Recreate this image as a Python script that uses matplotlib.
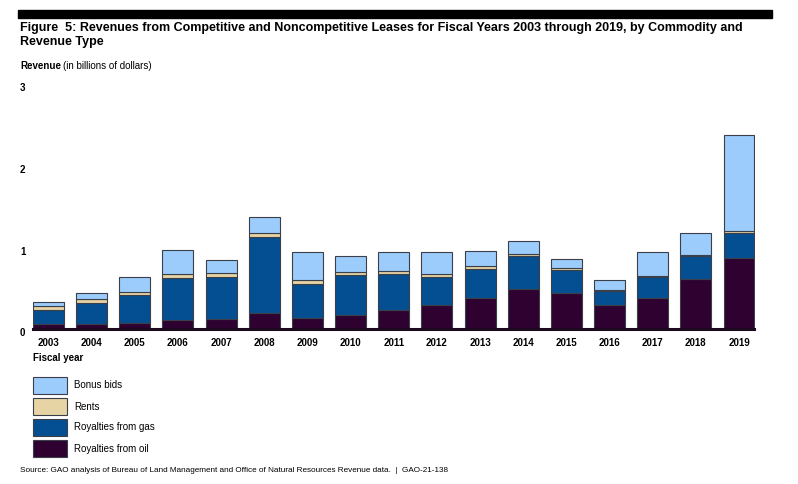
import matplotlib
matplotlib.use("Agg")
import matplotlib.pyplot as plt
import matplotlib.transforms as mtransforms
from matplotlib.patches import Rectangle
import numpy as np

plt.rcParams['font.family'] = ['Liberation Sans', 'DejaVu Sans']

years = ["2003", "2004", "2005", "2006", "2007", "2008", "2009", "2010", "2011",
         "2012", "2013", "2014", "2015", "2016", "2017", "2018", "2019"]
royalties_oil = [0.05, 0.05, 0.07, 0.10, 0.11, 0.19, 0.125, 0.17, 0.23,
                 0.29, 0.375, 0.48, 0.43, 0.285, 0.37, 0.60, 0.86]
royalties_gas = [0.18, 0.265, 0.34, 0.515, 0.52, 0.926, 0.42, 0.48, 0.44,
                 0.34, 0.355, 0.41, 0.29, 0.17, 0.255, 0.28, 0.31]
rents = [0.05, 0.04, 0.04, 0.05, 0.045, 0.05, 0.045, 0.04, 0.03,
         0.03, 0.035, 0.02, 0.02, 0.015, 0.015, 0.015, 0.02]
bonus_bids = [0.045, 0.075, 0.175, 0.30, 0.16, 0.20, 0.35, 0.195, 0.235,
              0.28, 0.18, 0.165, 0.11, 0.12, 0.30, 0.275, 1.18]
y_ticks = [0, 1, 2, 3]

series = [
    ("Royalties from oil", royalties_oil, "#2e0130"),
    ("Royalties from gas", royalties_gas, "#044f92"),
    ("Rents", rents, "#e6d4a4"),
    ("Bonus bids", bonus_bids, "#9cccfc"),
]

W, H = 798, 484
fig = plt.figure(figsize=(W / 100, H / 100), dpi=100)

def fx(px):
    return px / W

def fy(py):
    return 1 - py / H

# top black bar
fig.patches.append(Rectangle((fx(18), fy(18)), fx(772) - fx(18), fy(10) - fy(18),
                             transform=fig.transFigure, color="black", zorder=5))

fig.text(fx(20), fy(28), "Figure  5: Revenues from Competitive and Noncompetitive Leases for Fiscal Years 2003 through 2019, by Commodity and",
         fontsize=9.0, fontweight="bold", va="center", ha="left")
fig.text(fx(20), fy(42), "Revenue Type", fontsize=9.0, fontweight="bold", va="center", ha="left")

fig.text(fx(20), fy(66), "Revenue", fontsize=7.0, fontweight="bold", va="center", ha="left")
fig.text(fx(63), fy(66), "(in billions of dollars)", fontsize=7.0, va="center", ha="left")

# axes
ax_left, ax_right = 33, 754.5
ax_top, ax_bottom = 83, 328.5
ax = fig.add_axes([fx(ax_left), fy(ax_bottom), fx(ax_right) - fx(ax_left), fy(ax_top) - fy(ax_bottom)])

x = np.arange(len(years))
width = 0.718
bottom = np.zeros(len(years))
for name, vals, color in series:
    vals = np.array(vals)
    ax.bar(x, vals, width, bottom=bottom, color=color, edgecolor="#3a3f4a", linewidth=0.8, zorder=2)
    bottom += vals

ax.set_xlim(-width / 2, len(years) - 1 + width / 2)
ax.set_ylim(0, 3)
for s in ["top", "right", "left"]:
    ax.spines[s].set_visible(False)
ax.spines["bottom"].set_color("#1a0a1e")
ax.spines["bottom"].set_linewidth(2.2)
ax.spines["bottom"].set_zorder(3)

ax.set_yticks(y_ticks)
ax.set_yticklabels([str(t) for t in y_ticks], fontsize=7, fontweight="bold")
ax.tick_params(axis="y", length=0, pad=5.5)
off = mtransforms.ScaledTranslation(0, -4 / 100, fig.dpi_scale_trans)
for lbl in ax.get_yticklabels():
    lbl.set_transform(lbl.get_transform() + off)

ax.set_xticks(x)
ax.set_xticklabels(years, fontsize=7, fontweight="bold")
ax.tick_params(axis="x", length=0, pad=7)

fig.text(fx(33), fy(358), "Fiscal year", fontsize=7, fontweight="bold", va="center", ha="left")

# legend
legend_items = [("Bonus bids", "#9cccfc"), ("Rents", "#e6d4a4"),
                ("Royalties from gas", "#044f92"), ("Royalties from oil", "#2e0130")]
for i, (name, color) in enumerate(legend_items):
    top = 377 + i * 21
    fig.patches.append(Rectangle((fx(33), fy(top + 17)), fx(67) - fx(33), fy(top) - fy(top + 17),
                                 transform=fig.transFigure, facecolor=color,
                                 edgecolor="#3a3f4a", linewidth=0.8))
    fig.text(fx(74), fy(top + 8.5), name, fontsize=7, va="center", ha="left")

fig.text(fx(20), fy(471), "Source: GAO analysis of Bureau of Land Management and Office of Natural Resources Revenue data.  |  GAO-21-138",
         fontsize=5.9, va="center", ha="left")

fig.savefig("out.png", dpi=100, facecolor="white")
